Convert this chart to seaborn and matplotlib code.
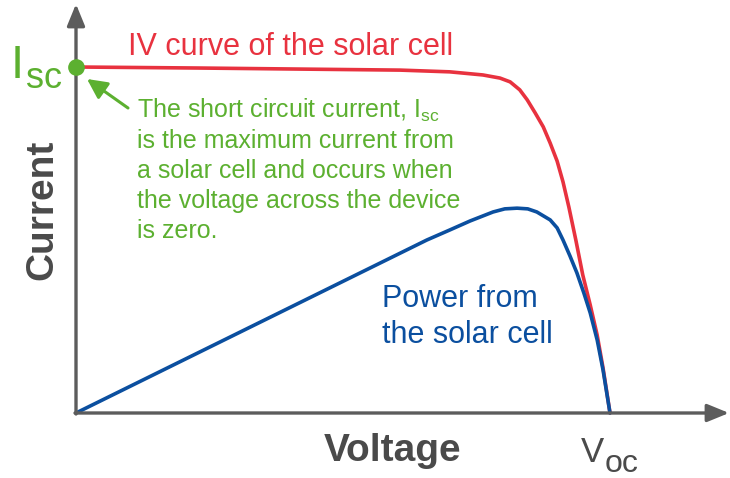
import matplotlib
matplotlib.use("Agg")
import matplotlib.pyplot as plt
import seaborn as sns
import pandas as pd

# ---- data (voltage normalised to Voc = 1, current normalised to Isc = 1) ----
iv_voltage = [0.000, 0.232, 0.419, 0.607, 0.700, 0.762, 0.794, 0.813, 0.831, 0.845,
              0.860, 0.875, 0.888, 0.901, 0.912, 0.923, 0.936, 0.949, 0.963, 0.976,
              0.987, 1.000]
iv_current = [1.000, 0.997, 0.994, 0.991, 0.986, 0.977, 0.968, 0.957, 0.934, 0.905,
              0.867, 0.827, 0.780, 0.728, 0.668, 0.595, 0.500, 0.399, 0.312, 0.225,
              0.130, 0.000]
pw_voltage = [0.000, 0.657, 0.700, 0.738, 0.781, 0.803, 0.826, 0.846, 0.863, 0.888,
              0.901, 0.912, 0.925, 0.938, 0.951, 0.963, 0.976, 0.987, 1.000]
pw_power = [0.000, 0.500, 0.529, 0.555, 0.581, 0.590, 0.592, 0.590, 0.581, 0.558,
            0.535, 0.500, 0.454, 0.405, 0.347, 0.289, 0.211, 0.124, 0.000]

title_iv = "IV curve of the solar cell"
note_lines = ["The short circuit current, I$_{\\mathregular{sc}}$",
              "is the maximum current from",
              "a solar cell and occurs when",
              "the voltage across the device",
              "is zero."]
power_lines = ["Power from", "the solar cell"]
x_label = "Voltage"
y_label = "Current"

RED = "#e8323f"
BLUE = "#0b4f9f"
GREEN = "#5cb030"
GRAY = "#4a4a4a"
AXC = "#5c5c5c"

sns.set_theme(style="white")
plt.rcParams['font.family'] = ['Liberation Sans', 'DejaVu Sans']

W, H = 730, 478
fig = plt.figure(figsize=(W / 100, H / 100), dpi=100)
ax = fig.add_axes([0, 0, 1, 1])

# pixel mapping: x = 76 + v*534 ; y = 413 - i*346
x0, sx = 76, 534
y0, sy = 413, 346
ax.set_xlim(-x0 / sx, (W - x0) / sx)
ax.set_ylim(-(H - y0) / sy, y0 / sy)
ax.axis("off")

def P(px, py):
    return ((px - x0) / sx, (y0 - py) / sy)

# axes with arrows
ax.annotate("", xy=P(76, 4), xytext=P(76, 414),
            arrowprops=dict(arrowstyle="-|>,head_length=1.1,head_width=0.45",
                            color=AXC, lw=2.4, shrinkA=0, shrinkB=0))
ax.annotate("", xy=P(729, 413), xytext=P(75, 413),
            arrowprops=dict(arrowstyle="-|>,head_length=1.1,head_width=0.45",
                            color=AXC, lw=2.4, shrinkA=0, shrinkB=0))

iv_df = pd.DataFrame({"v": iv_voltage, "i": iv_current})
pw_df = pd.DataFrame({"v": pw_voltage, "p": pw_power})
sns.lineplot(data=iv_df, x="v", y="i", ax=ax, color=RED, lw=2.6,
             sort=False, estimator=None)
sns.lineplot(data=pw_df, x="v", y="p", ax=ax, color=BLUE, lw=2.6,
             sort=False, estimator=None)

# Isc dot
ax.plot([iv_voltage[0]], [iv_current[0]], "o", color=GREEN, ms=11, zorder=5)

# green arrow
ax.annotate("", xy=P(87, 79), xytext=P(128, 108),
            arrowprops=dict(arrowstyle="-|>,head_length=1.0,head_width=0.5",
                            color=GREEN, lw=2.2, shrinkA=0, shrinkB=0))

def T(px, py, s, **kw):
    ax.text(*P(px, py), s, **kw)

T(128, 55, title_iv, color=RED, fontsize=22, va="baseline", ha="left")
for k, line in enumerate(note_lines):
    T(137, 118 + 30 * k, line, color=GREEN, fontsize=18, va="baseline", ha="left")
T(382, 307, power_lines[0], color=BLUE, fontsize=22, va="baseline", ha="left")
T(382, 343, power_lines[1], color=BLUE, fontsize=22, va="baseline", ha="left")

T(393, 461, x_label, color=GRAY, fontsize=28, fontweight="bold", ha="center", va="baseline")
T(42, 210, y_label, color=GRAY, fontsize=28, fontweight="bold", ha="center",
  va="center", rotation=90)

T(11, 78, "I", color=GREEN, fontsize=34, va="baseline", ha="left")
T(26, 88, "sc", color=GREEN, fontsize=26, va="baseline", ha="left")
T(581, 462, "V", color=GRAY, fontsize=25, va="baseline", ha="left")
T(605, 472, "oc", color=GRAY, fontsize=23, va="baseline", ha="left")

fig.savefig("out.png", dpi=100)
